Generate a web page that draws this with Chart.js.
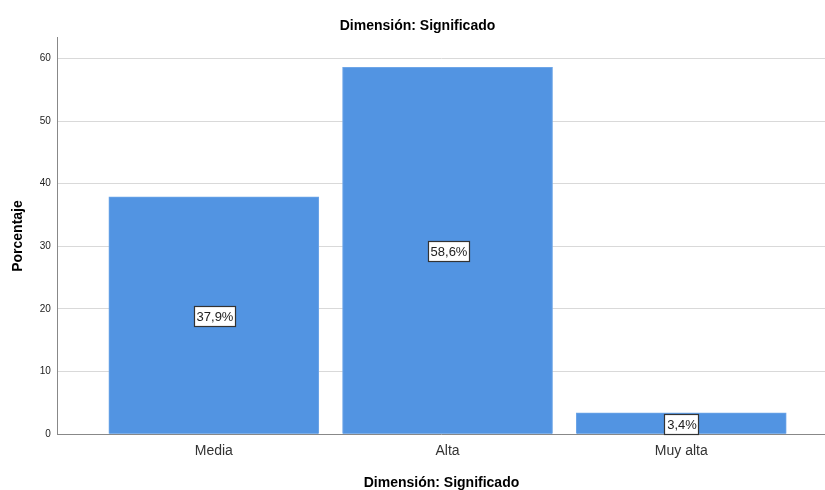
<!DOCTYPE html>
<html>
<head>
<meta charset="utf-8">
<script src="https://cdn.jsdelivr.net/npm/chart.js@4/dist/chart.umd.min.js"></script>
<style>
  html, body { margin: 0; padding: 0; background: #fff; }
  #chart { display: block; }
</style>
</head>
<body>
<canvas id="chart" width="825" height="490"></canvas>
<script>
const categories = ["Media", "Alta", "Muy alta"];
const percentages = [37.9, 58.6, 3.4];
const yTicks = [0, 10, 20, 30, 40, 50, 60];

const FONT = "'Liberation Sans', Arial, sans-serif";
const BAR_BLUE = "#5294e2";

// boxed "xx,x%" labels in the middle of each bar
const valueBoxes = {
  id: "valueBoxes",
  afterDatasetsDraw(chart) {
    const ctx = chart.ctx;
    const y = chart.scales.y;
    const meta = chart.getDatasetMeta(0);
    ctx.save();
    ctx.font = "13px " + FONT;
    ctx.textAlign = "center";
    ctx.textBaseline = "middle";
    meta.data.forEach((bar, i) => {
      const v = percentages[i];
      const text = v.toFixed(1).replace(".", ",") + "%";
      const cy = Math.round(y.getPixelForValue(v / 2));
      const cx = Math.round(bar.x);
      const w = Math.ceil(ctx.measureText(text).width) + 4;
      const h = 20;
      const left = Math.round(cx - w / 2);
      const top = cy - h / 2;
      ctx.fillStyle = "#fff";
      ctx.fillRect(left, top, w, h);
      ctx.strokeStyle = "#333";
      ctx.lineWidth = 1.2;
      ctx.strokeRect(left + 0.5, top + 0.5, w, h);
      ctx.fillStyle = "#222";
      ctx.fillText(text, cx + 1, cy + 1);
    });
    ctx.restore();
  }
};

new Chart(document.getElementById("chart"), {
  type: "bar",
  data: {
    datasets: [{
      data: percentages.map((v, i) => ({ x: i, y: v })),
      backgroundColor: BAR_BLUE,
      borderColor: "#6ea6e8",
      borderWidth: { top: 1, left: 1, right: 1, bottom: 0 },
      barThickness: 210
    }]
  },
  options: {
    responsive: false,
    animation: false,
    layout: { padding: { top: 4, right: 0, left: 10, bottom: 0 } },
    plugins: {
      legend: { display: false },
      tooltip: { enabled: false },
      title: {
        display: true,
        text: "Dimensión: Significado",
        color: "#000",
        font: { family: FONT, size: 14, weight: "bold" },
        padding: { top: 14, bottom: 3 }
      }
    },
    scales: {
      x: {
        type: "linear",
        offset: false,
        min: -0.667,
        max: 2.615,
        afterBuildTicks(scale) {
          scale.ticks = categories.map((_, i) => ({ value: i }));
        },
        ticks: {
          callback: (v) => categories[v] ?? "",
          color: "#333",
          font: { family: FONT, size: 14 },
          padding: 1,
          maxRotation: 0
        },
        grid: { display: false },
        border: { color: "#888", width: 1 },
        title: {
          display: true,
          text: "Dimensión: Significado",
          color: "#000",
          font: { family: FONT, size: 14, weight: "bold", lineHeight: 1 },
          padding: { top: 15, bottom: 0 }
        }
      },
      y: {
        min: 0,
        max: 63.3,
        afterBuildTicks(scale) {
          scale.ticks = yTicks.map((v) => ({ value: v }));
        },
        ticks: {
          color: "#222",
          font: { family: FONT, size: 10 },
          padding: 7
        },
        grid: { color: "#d9d9d9", lineWidth: 1, drawTicks: false },
        border: { color: "#888", width: 1 },
        title: {
          display: true,
          text: "Porcentaje",
          color: "#000",
          font: { family: FONT, size: 14, weight: "bold" },
          padding: { top: 0, bottom: 6 }
        }
      }
    }
  },
  plugins: [valueBoxes]
});
</script>
</body>
</html>
